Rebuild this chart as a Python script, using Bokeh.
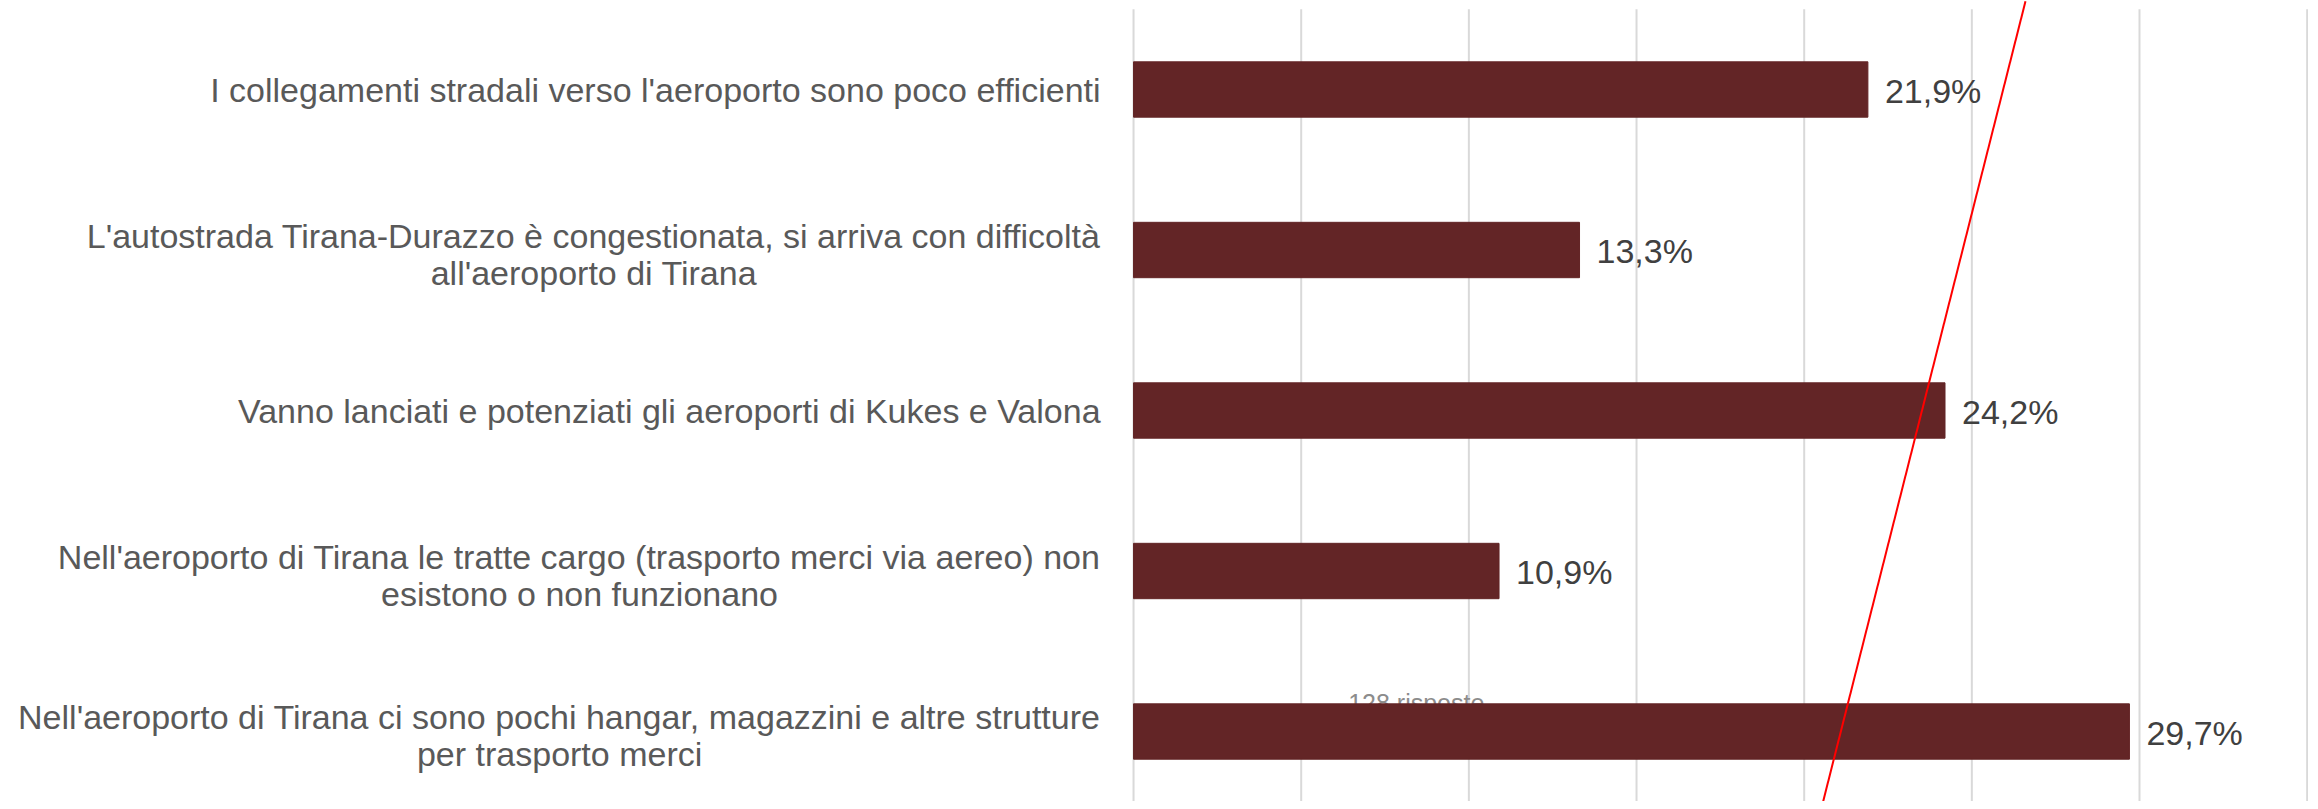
import subprocess
from bokeh.plotting import figure
from bokeh.models import Range1d, ColumnDataSource
from bokeh.core.properties import value
from bokeh.embed import file_html
from bokeh.resources import INLINE

# ---------------- data ----------------
categories = [
    "I collegamenti stradali verso l'aeroporto sono poco efficienti",
    "L'autostrada Tirana-Durazzo è congestionata, si arriva con difficoltà\nall'aeroporto di Tirana",
    "Vanno lanciati e potenziati gli aeroporti di Kukes e Valona",
    "Nell'aeroporto di Tirana le tratte cargo (trasporto merci via aereo) non\nesistono o non funzionano",
    "Nell'aeroporto di Tirana ci sono pochi hangar, magazzini e altre strutture\nper trasporto merci",
]
values = [21.9, 13.3, 24.2, 10.9, 29.7]
grid_ticks = [0, 5, 10, 15, 20, 25, 30, 35]
note_text = "128 risposte"
note_x = 6.4
red_line_x = [26.6, 20.5]
red_line_y = [-0.55, 4.49]

FONT = "Liberation Sans"
LABEL_SIZE = 34
VALUE_SIZE = 34
LINE_H = 37
GAP = 33


def measure(text, size):
    try:
        path = subprocess.run(["fc-match", "-f", "%{file}", FONT + ":style=Regular"],
                              capture_output=True, text=True).stdout.strip()
        from PIL import ImageFont
        f = ImageFont.truetype(path, size)
        return f.getlength(text)
    except Exception:
        return len(text) * 0.42 * size


ys = list(range(len(categories)))
n_cat = len(categories)

p = figure(width=2308, height=801, output_backend="svg", toolbar_location=None,
           x_range=Range1d(-33.79, 35.04), y_range=Range1d(4.436, -0.5545),
           min_border=0, min_border_left=0, min_border_right=0,
           min_border_top=0, min_border_bottom=0)
p.outline_line_color = None
p.xaxis.visible = False
p.yaxis.visible = False
p.xgrid.grid_line_color = None
p.ygrid.grid_line_color = None
p.background_fill_color = "white"
p.border_fill_color = "white"

# vertical gridlines spanning the category area
p.segment(x0=grid_ticks, x1=grid_ticks, y0=[-0.5] * len(grid_ticks),
          y1=[n_cat - 0.5] * len(grid_ticks), line_color="#d9d9d9", line_width=2)

# note (drawn before the bars so that the bar covers its descenders)
p.text(x=[note_x], y=[ys[-1]], text=[note_text], y_offset=-29,
       text_font=value(FONT), text_font_size="25px", text_color="#8c8c8c",
       text_align="left", text_baseline="alphabetic")

# bars
p.hbar(y=ys, left=0, right=values, height=0.345, fill_color="#632526",
       line_color="#632526")

# value labels
val_src = ColumnDataSource(dict(x=values, y=ys,
                                t=[f"{v:.1f}%".replace(".", ",") for v in values]))
p.text(x="x", y="y", text="t", source=val_src, x_offset=17, y_offset=1,
       text_font=value(FONT), text_font_size=f"{VALUE_SIZE}px",
       text_color="#404040", text_align="left", text_baseline="middle")

# category labels
first = dict(x=[], y=[], t=[], yo=[])
rest = dict(x=[], y=[], t=[], yo=[], xo=[])
for y, cat in zip(ys, categories):
    lines = cat.split("\n")
    n = len(lines)
    w0 = measure(lines[0], LABEL_SIZE)
    shift = 4 if n > 1 else 0
    for k, line in enumerate(lines):
        yo = (k - (n - 1) / 2) * LINE_H + shift
        if k == 0:
            first["x"].append(0); first["y"].append(y); first["t"].append(line); first["yo"].append(yo)
        else:
            rest["x"].append(0); rest["y"].append(y); rest["t"].append(line); rest["yo"].append(yo)
            rest["xo"].append(-GAP - w0 / 2)

p.text(x="x", y="y", text="t", y_offset="yo", x_offset=-GAP, source=ColumnDataSource(first),
       text_font=value(FONT), text_font_size=f"{LABEL_SIZE}px", text_color="#595959",
       text_align="right", text_baseline="middle")
p.text(x="x", y="y", text="t", y_offset="yo", x_offset="xo", source=ColumnDataSource(rest),
       text_font=value(FONT), text_font_size=f"{LABEL_SIZE}px", text_color="#595959",
       text_align="center", text_baseline="middle")

# red line
p.line(x=red_line_x, y=red_line_y, line_color="#ff0000", line_width=2)

open("out.html", "w").write(file_html(p, INLINE))
